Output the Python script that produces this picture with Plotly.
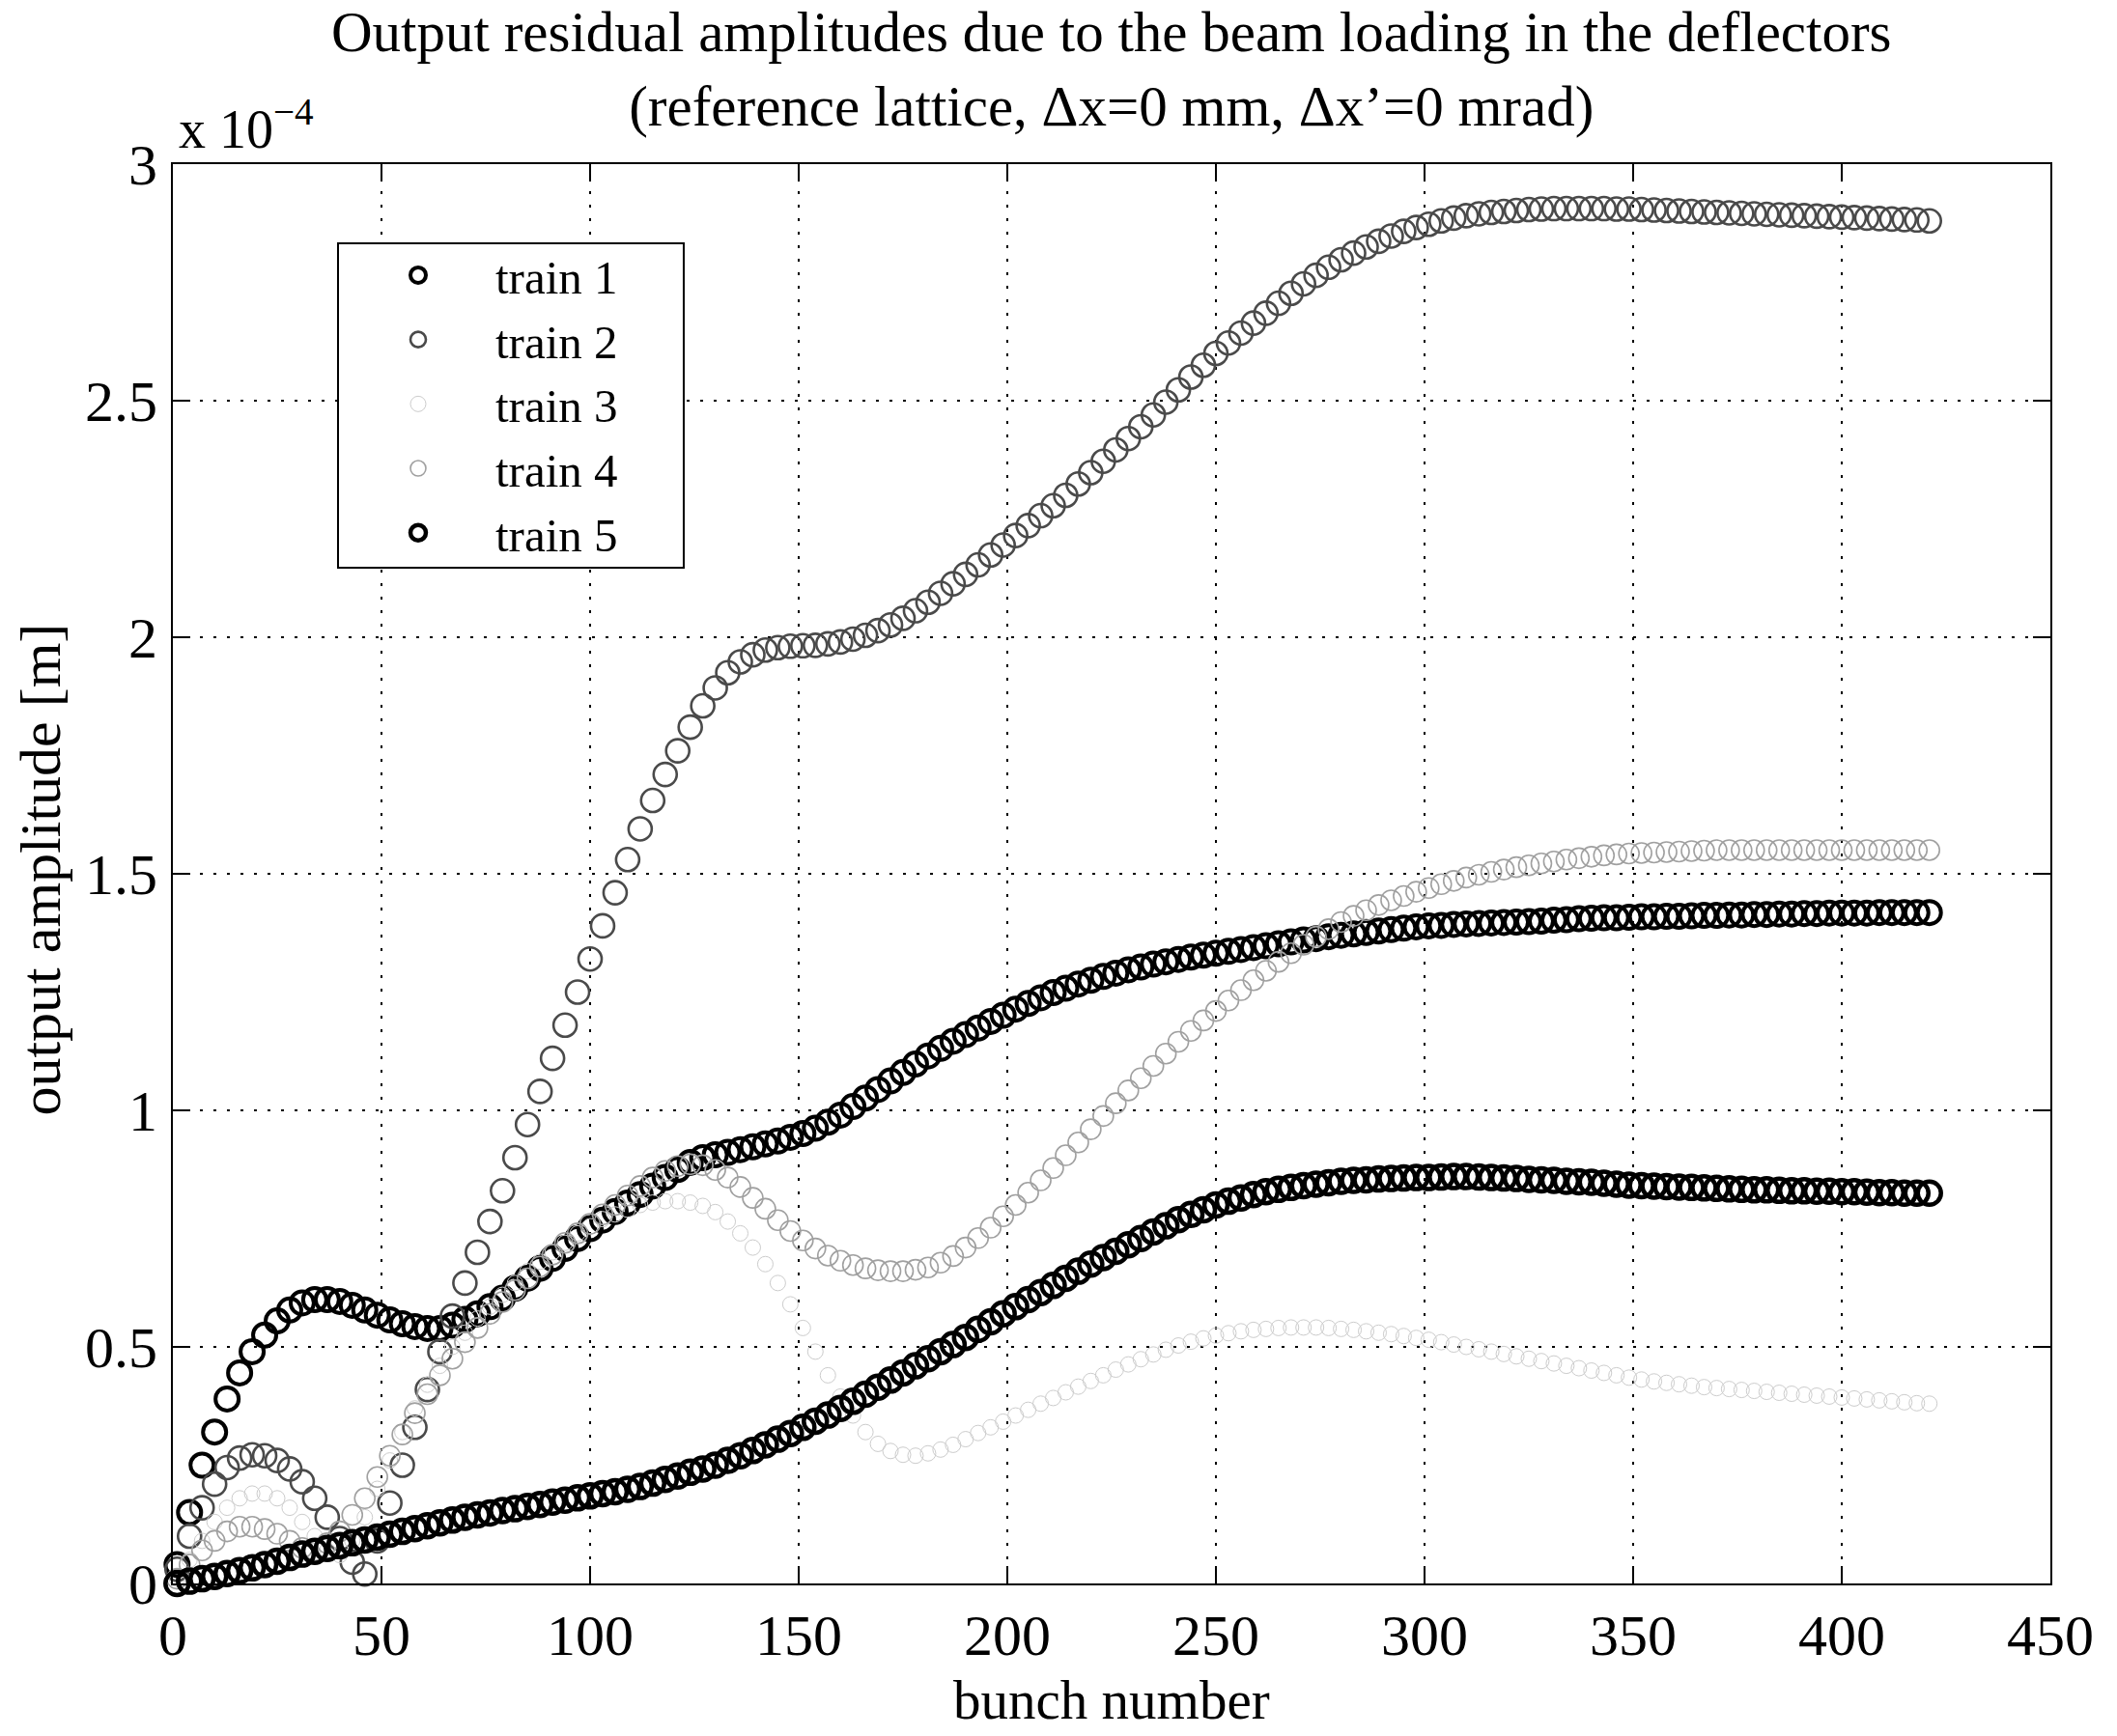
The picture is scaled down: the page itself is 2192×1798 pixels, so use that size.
import plotly.graph_objects as go

# bunch numbers (every third bunch)
bunch = list(range(1, 422, 3))

# output amplitudes in units of 1e-4 m
train1 = [0.04, 0.15, 0.25, 0.32, 0.39, 0.445, 0.49, 0.525, 0.555, 0.578, 0.593, 0.6, 0.6, 0.596, 0.588, 0.578,
          0.567, 0.557, 0.549, 0.543, 0.539, 0.539, 0.546, 0.558, 0.57, 0.585, 0.603, 0.624, 0.645, 0.666, 0.687,
          0.708, 0.729, 0.75, 0.768, 0.786, 0.804, 0.822, 0.84, 0.858, 0.875, 0.89, 0.9, 0.906, 0.911, 0.917, 0.923,
          0.929, 0.935, 0.943, 0.951, 0.962, 0.975, 0.99, 1.008, 1.026, 1.044, 1.062, 1.08, 1.098, 1.115, 1.131,
          1.146, 1.16, 1.174, 1.188, 1.201, 1.214, 1.226, 1.238, 1.249, 1.258, 1.267, 1.275, 1.283, 1.29, 1.297,
          1.303, 1.309, 1.314, 1.319, 1.324, 1.328, 1.332, 1.336, 1.34, 1.344, 1.348, 1.352, 1.356, 1.36, 1.363,
          1.367, 1.37, 1.373, 1.376, 1.379, 1.382, 1.385, 1.388, 1.39, 1.391, 1.393, 1.394, 1.395, 1.396, 1.397,
          1.398, 1.399, 1.4, 1.402, 1.403, 1.405, 1.406, 1.407, 1.407, 1.408, 1.409, 1.409, 1.41, 1.41, 1.411,
          1.412, 1.412, 1.413, 1.413, 1.414, 1.414, 1.415, 1.415, 1.416, 1.416, 1.417, 1.417, 1.417, 1.417, 1.418,
          1.418, 1.418, 1.418, 1.418]
train2 = [0.03, 0.1, 0.16, 0.21, 0.245, 0.265, 0.272, 0.27, 0.26, 0.242, 0.215, 0.18, 0.14, 0.095, 0.045, 0.02,
          0.09, 0.17, 0.25, 0.33, 0.41, 0.49, 0.565, 0.635, 0.7, 0.765, 0.83, 0.9, 0.97, 1.04, 1.11, 1.18, 1.25,
          1.32, 1.39, 1.46, 1.53, 1.595, 1.655, 1.71, 1.76, 1.81, 1.855, 1.893, 1.925, 1.948, 1.963, 1.973, 1.978,
          1.981, 1.982, 1.983, 1.986, 1.99, 1.996, 2.004, 2.014, 2.026, 2.04, 2.056, 2.074, 2.093, 2.113, 2.133,
          2.153, 2.174, 2.195, 2.215, 2.236, 2.257, 2.278, 2.3, 2.324, 2.348, 2.372, 2.396, 2.42, 2.445, 2.47,
          2.497, 2.523, 2.55, 2.575, 2.6, 2.622, 2.643, 2.664, 2.685, 2.706, 2.727, 2.747, 2.765, 2.782, 2.798,
          2.812, 2.825, 2.837, 2.848, 2.858, 2.866, 2.873, 2.88, 2.886, 2.891, 2.895, 2.898, 2.9, 2.902, 2.904,
          2.905, 2.906, 2.906, 2.906, 2.906, 2.906, 2.905, 2.905, 2.904, 2.903, 2.902, 2.901, 2.9, 2.899, 2.898,
          2.897, 2.896, 2.895, 2.894, 2.893, 2.892, 2.891, 2.89, 2.889, 2.888, 2.887, 2.886, 2.885, 2.884, 2.883,
          2.882, 2.88]
train3 = [0.01, 0.05, 0.09, 0.13, 0.16, 0.18, 0.19, 0.19, 0.18, 0.16, 0.13, 0.1, 0.07, 0.06, 0.09, 0.14, 0.2,
          0.26, 0.32, 0.37, 0.42, 0.46, 0.5, 0.53, 0.56, 0.585, 0.61, 0.635, 0.66, 0.68, 0.7, 0.72, 0.74, 0.755,
          0.77, 0.78, 0.79, 0.8, 0.805, 0.808, 0.808, 0.805, 0.798, 0.785, 0.765, 0.74, 0.71, 0.675, 0.635, 0.59,
          0.54, 0.49, 0.44, 0.395, 0.355, 0.32, 0.295, 0.28, 0.272, 0.27, 0.275, 0.283, 0.293, 0.305, 0.318, 0.33,
          0.342, 0.355, 0.367, 0.38, 0.392, 0.404, 0.416, 0.428, 0.44, 0.452, 0.463, 0.474, 0.484, 0.494, 0.503,
          0.511, 0.518, 0.524, 0.529, 0.533, 0.536, 0.538, 0.54, 0.541, 0.541, 0.541, 0.54, 0.538, 0.536, 0.533,
          0.53, 0.527, 0.523, 0.519, 0.515, 0.51, 0.505, 0.5, 0.495, 0.49, 0.485, 0.48, 0.475, 0.47, 0.465, 0.46,
          0.455, 0.45, 0.445, 0.44, 0.435, 0.431, 0.427, 0.424, 0.421, 0.418, 0.415, 0.413, 0.411, 0.409, 0.407,
          0.405, 0.403, 0.401, 0.399, 0.397, 0.395, 0.393, 0.391, 0.389, 0.387, 0.385, 0.383, 0.381, 0.38]
train4 = [0.01, 0.04, 0.07, 0.09, 0.11, 0.12, 0.12, 0.115, 0.105, 0.09, 0.075, 0.07, 0.085, 0.11, 0.145, 0.18,
          0.225, 0.27, 0.315, 0.36, 0.4, 0.44, 0.475, 0.51, 0.54, 0.57, 0.595, 0.62, 0.645, 0.67, 0.695, 0.72, 0.74,
          0.76, 0.78, 0.8, 0.82, 0.84, 0.858, 0.872, 0.882, 0.886, 0.884, 0.874, 0.858, 0.838, 0.815, 0.792, 0.768,
          0.745, 0.725, 0.708, 0.693, 0.682, 0.673, 0.666, 0.662, 0.66, 0.66, 0.663, 0.668, 0.678, 0.692, 0.71,
          0.73, 0.752, 0.776, 0.8, 0.826, 0.852, 0.878, 0.905, 0.932, 0.96, 0.988, 1.015, 1.042, 1.068, 1.094,
          1.12, 1.145, 1.168, 1.19, 1.21, 1.232, 1.254, 1.275, 1.295, 1.314, 1.332, 1.35, 1.367, 1.383, 1.398,
          1.411, 1.423, 1.434, 1.444, 1.453, 1.462, 1.47, 1.478, 1.485, 1.492, 1.498, 1.504, 1.509, 1.514, 1.518,
          1.522, 1.526, 1.53, 1.533, 1.536, 1.539, 1.541, 1.543, 1.544, 1.545, 1.546, 1.547, 1.548, 1.549, 1.55,
          1.55, 1.55, 1.55, 1.55, 1.55, 1.55, 1.55, 1.55, 1.55, 1.55, 1.55, 1.55, 1.55, 1.55, 1.55, 1.55, 1.55, 1.55]
train5 = [0.0, 0.005, 0.01, 0.015, 0.021, 0.027, 0.033, 0.04, 0.047, 0.055, 0.062, 0.068, 0.074, 0.08, 0.086,
          0.092, 0.098, 0.104, 0.11, 0.116, 0.122, 0.128, 0.134, 0.14, 0.145, 0.149, 0.154, 0.158, 0.163, 0.167,
          0.172, 0.176, 0.181, 0.185, 0.19, 0.194, 0.199, 0.205, 0.212, 0.22, 0.227, 0.235, 0.242, 0.25, 0.26,
          0.27, 0.281, 0.293, 0.305, 0.317, 0.33, 0.343, 0.356, 0.37, 0.385, 0.4, 0.415, 0.43, 0.445, 0.46, 0.475,
          0.49, 0.505, 0.52, 0.537, 0.553, 0.57, 0.585, 0.6, 0.615, 0.63, 0.645, 0.66, 0.675, 0.689, 0.702, 0.716,
          0.729, 0.743, 0.756, 0.769, 0.78, 0.79, 0.8, 0.808, 0.815, 0.822, 0.828, 0.833, 0.837, 0.841, 0.844,
          0.847, 0.85, 0.852, 0.853, 0.855, 0.856, 0.857, 0.858, 0.858, 0.859, 0.86, 0.86, 0.859, 0.858, 0.857,
          0.856, 0.854, 0.853, 0.852, 0.85, 0.849, 0.848, 0.846, 0.844, 0.842, 0.841, 0.84, 0.839, 0.838, 0.837,
          0.836, 0.835, 0.834, 0.833, 0.832, 0.832, 0.831, 0.83, 0.83, 0.829, 0.829, 0.828, 0.828, 0.827, 0.826,
          0.826, 0.825, 0.825, 0.825]

names = ["train 1", "train 2", "train 3", "train 4", "train 5"]
series = [train1, train2, train3, train4, train5]
colors = ["#000000", "#4a4a4a", "#cccccc", "#a0a0a0", "#000000"]
sizes = [24, 24, 16, 21, 24]
widths = [4.0, 2.6, 1.0, 1.6, 4.5]

x_ticks = list(range(0, 451, 50))
y_ticks = [0, 0.5, 1, 1.5, 2, 2.5, 3]

FONT = "Liberation Serif"

fig = go.Figure()
for name, ys, c, s, w in zip(names, series, colors, sizes, widths):
    fig.add_trace(go.Scatter(
        x=bunch, y=ys, name=name, mode="markers", cliponaxis=False,
        marker=dict(symbol="circle-open", size=s, color=c, line=dict(color=c, width=w)),
    ))

axis_common = dict(
    showline=True, linecolor="black", linewidth=2, mirror="ticks",
    ticks="inside", ticklen=18, tickwidth=2, tickcolor="black",
    showgrid=True, gridcolor="black", gridwidth=2, griddash="3px,11px",
    zeroline=False, tickfont=dict(family=FONT, size=60, color="black"),
)

fig.update_layout(
    width=2192, height=1798,
    margin=dict(l=179, r=69, t=170, b=158, pad=0),
    paper_bgcolor="white", plot_bgcolor="white",
    font=dict(family=FONT, color="black"),
    xaxis=dict(range=[0, 450], tickvals=x_ticks, ticklabelstandoff=0, **axis_common),
    yaxis=dict(range=[0, 3], tickvals=y_ticks, ticklabelstandoff=2, **axis_common),
    showlegend=True,
    legend=dict(x=0.0895, y=0.9479, xanchor="left", yanchor="top",
                bgcolor="rgba(0,0,0,0)", borderwidth=0, itemwidth=150,
                font=dict(family=FONT, size=49, color="black"), itemsizing="trace"),
    shapes=[dict(type="rect", xref="paper", yref="paper", x0=0.08796, x1=0.2721, y0=0.7156, y1=0.9442,
                 line=dict(color="black", width=2), fillcolor="white", layer="above")],
    annotations=[
        dict(text="Output residual amplitudes due to the beam loading in the deflectors<br>"
                  "(reference lattice, \u0394x=0 mm, \u0394x\u2019=0 mrad)",
             xref="paper", yref="paper", x=0.5, y=1 + 99 / 1470, xanchor="center", yanchor="middle",
             showarrow=False, font=dict(family=FONT, size=59)),
        dict(text="x 10<sup>\u22124</sup>", xref="paper", yref="paper", x=0.002, y=1 + 40 / 1470,
             xanchor="left", yanchor="middle", showarrow=False, font=dict(family=FONT, size=56)),
        dict(text="bunch number", xref="paper", yref="paper", x=0.5, y=-154 / 1470,
             xanchor="center", yanchor="bottom", showarrow=False, font=dict(family=FONT, size=57)),
        dict(text="output amplitude [m]", xref="paper", yref="paper", x=-137 / 1944, y=0.503,
             xanchor="center", yanchor="middle", textangle=-90, showarrow=False,
             font=dict(family=FONT, size=60)),
    ],
)

fig.write_html("out.html")
